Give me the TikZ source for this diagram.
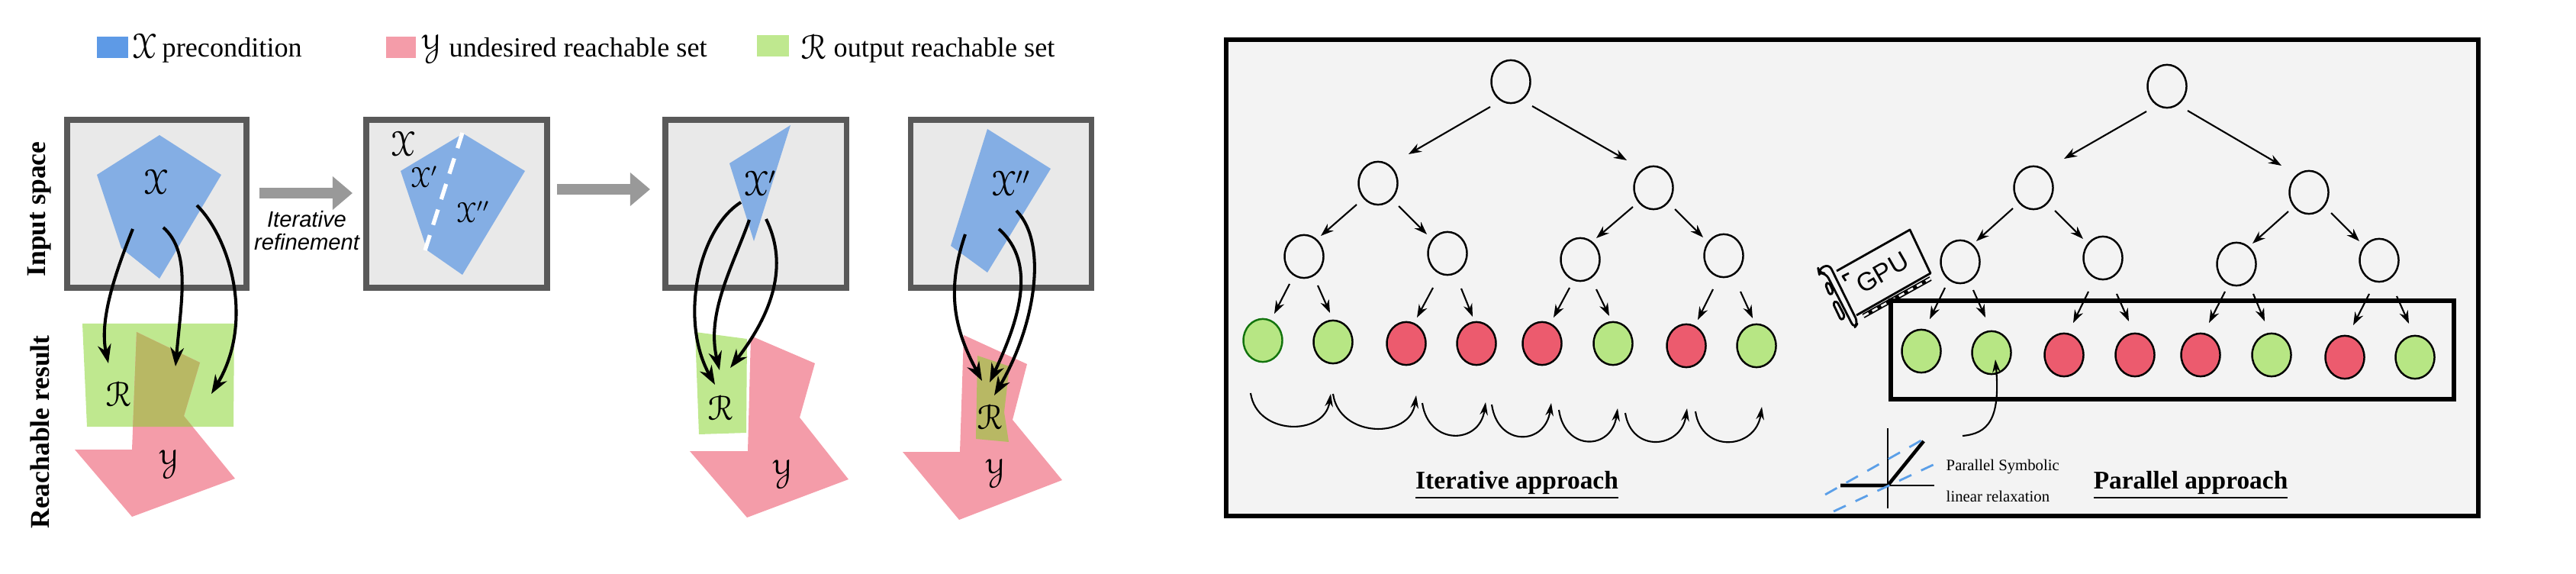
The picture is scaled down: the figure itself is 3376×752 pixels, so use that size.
\documentclass[tikz,border=0pt]{standalone}
\usepackage{fontspec}
\usepackage{eucal}
\setmainfont{Liberation Serif}
\setsansfont{Liberation Sans}
\usetikzlibrary{arrows.meta,shapes.geometric,calc}
\definecolor{cblue}{HTML}{84AEE4}
\definecolor{cblueL}{HTML}{5E9AE6}
\definecolor{cpink}{HTML}{F49CA9}
\definecolor{cgreen}{HTML}{BFE88F}
\definecolor{colive}{HTML}{B8B864}
\definecolor{cbox}{HTML}{595959}
\definecolor{cfill}{HTML}{E9E9E9}
\definecolor{cgray}{HTML}{999999}
\definecolor{lred}{HTML}{EC5B6E}
\definecolor{lgreen}{HTML}{B7E684}
\definecolor{ldash}{HTML}{5B9FE8}
\definecolor{frameback}{HTML}{F3F3F3}
\newcommand{\calX}{$\mathcal{X}$}
\newcommand{\calY}{$\mathcal{Y}$}
\newcommand{\calR}{$\mathcal{R}$}
\tikzset{
  spacebox/.style={draw=cbox,fill=cfill,line width=2pt},
  bigarrow/.style={line width=4.2pt,draw=cgray,-{Triangle[length=7.4pt,width=12pt]}},
  mapcurve/.style={line width=1.15pt,black,-{Stealth[length=7pt,width=5pt]}},
  tnode/.style={ellipse,draw=black,line width=0.7pt,minimum width=14.5pt,minimum height=16pt,inner sep=0pt},
  gleaf/.style={tnode,fill=lgreen},
  rleaf/.style={tnode,fill=lred},
  tarrow/.style={line width=0.6pt,black,-{Stealth[length=4.8pt,width=3.4pt]}},
  swoop/.style={line width=0.6pt,black,-{Stealth[length=4.8pt,width=3pt]}},
  lab/.style={inner sep=0pt,font=\fontsize{13pt}{13pt}\selectfont},
  labsmall/.style={inner sep=0pt,font=\fontsize{10.5pt}{11pt}\selectfont},
  legend/.style={inner sep=0pt,anchor=base west,font=\fontsize{10.3pt}{12pt}\selectfont},
  rowlabel/.style={inner sep=0pt,rotate=90,font=\fontsize{10.1pt}{12pt}\selectfont\bfseries},
  title/.style={inner sep=0pt,anchor=base,font=\fontsize{9.5pt}{12pt}\selectfont\bfseries},
  small/.style={inner sep=0pt,anchor=west,font=\fontsize{5.9pt}{7pt}\selectfont},
  gpuline/.style={black,line width=0.8pt,line join=round},
}
% \conn{a}{dx,dy}{b}{dx,dy}: tree arrow between two named nodes
\newcommand{\conn}[4]{\draw[tarrow] ([shift={(#2)}]#1.center) -- ([shift={(#4)}]#3.center);}
% \swp{a}{dx,dy}{b}{dx,dy}{bottom}: swoop under leaves, from below leaf a to below leaf b
\newcommand{\swp}[5]{\draw[swoop] ([shift={(#2)}]#1.center) .. controls ($([shift={(#2)}]#1.center)+(8,#5)$) and ($([shift={(#4)}]#3.center)+(-8,#5)$) .. ([shift={(#4)}]#3.center);}
\begin{document}
\begin{tikzpicture}[x=0.01cm,y=-0.01cm]
\useasboundingbox (0,0) rectangle (3376,752);
%% legend
\fill[cblueL] (127,48) rectangle (168,76);
\node[lab] (lx) at (189,60) {\calX};
\node[legend] (lt1) at (212,75) {precondition};
\fill[cpink] (506,48) rectangle (545,76);
\node[lab] (ly) at (565,61) {\calY};
\node[legend] (lt2) at (588,75) {undesired reachable set};
\fill[cgreen] (992,46) rectangle (1034,74);
\node[lab] (lr) at (1066,61) {\calR};
\node[legend] (lt3) at (1092,75) {output reachable set};
%% row labels
\node[rowlabel] (inp) at (52,274) {Input space};
\node[rowlabel] (rea) at (52,566) {Reachable result};
%% boxes
\draw[spacebox] (88,157) rectangle (323,377);
\draw[spacebox] (480,157) rectangle (717,377);
\draw[spacebox] (872,157) rectangle (1109,377);
\draw[spacebox] (1193,157) rectangle (1430,377);
\coordinate (b1r) at (340,253); \coordinate (b2l) at (462,253);
\coordinate (b2r) at (730,248); \coordinate (b3l) at (852,248);
\draw[bigarrow] (b1r) -- (b2l);
\draw[bigarrow] (b2r) -- (b3l);
\node[inner sep=0pt,align=center,font=\fontsize{8.3pt}{8.6pt}\selectfont\sffamily\itshape] (iter) at (402,302) {Iterative\\refinement};
%% panel 1
\fill[cblue] (209,177) -- (290,229) -- (209,365) -- (159,325) -- (127,229) -- cycle;
\node[lab] (x1) at (204,238) {\calX};
\fill[cgreen] (108,424) -- (307,424) -- (306,559) -- (114,559) -- cycle;
\fill[cpink] (179,435) -- (262,475) -- (241,545) -- (308,627) -- (173,677) -- (98,589) -- (173,589) -- cycle;
\begin{scope}
\clip (108,424) -- (307,424) -- (306,559) -- (114,559) -- cycle;
\fill[colive] (179,435) -- (262,475) -- (241,545) -- (308,627) -- (173,677) -- (98,589) -- (173,589) -- cycle;
\end{scope}
\node[lab] (r1) at (155,516) {\calR};
\node[lab] (y1) at (221,605) {\calY};
\coordinate (a1s) at (174,300); \coordinate (a1e) at (142,476);
\coordinate (a2s) at (214,298); \coordinate (a2e) at (230,480);
\coordinate (a3s) at (258,269); \coordinate (a3e) at (277,516);
\draw[mapcurve] (a1s) .. controls (150,360) and (130,420) .. (a1e);
\draw[mapcurve] (a2s) .. controls (250,330) and (238,390) .. (a2e);
\draw[mapcurve] (a3s) .. controls (300,310) and (335,420) .. (a3e);
%% panel 2
\fill[cblue] (607,175) -- (688,224) -- (606,360) -- (560,328) -- (525,224) -- cycle;
\draw[white,line width=1.5pt,dash pattern=on 6pt off 4pt] (606,174) -- (557,328);
\node[lab] (x2) at (528,188) {\calX};
\node[labsmall] (x2a) at (556,232) {\calX$'$};
\node[labsmall] (x2b) at (620,278) {\calX$''$};
%% panel 3
\fill[cblue] (1036,164) -- (956,214) -- (988,316) -- cycle;
\node[lab] (x3) at (996,240) {\calX$'$};
\fill[cgreen] (911,435) -- (979,444) -- (978,567) -- (916,569) -- cycle;
\fill[cpink] (984,440) -- (1068,476) -- (1048,547) -- (1112,628) -- (979,678) -- (904,591) -- (980,591) -- cycle;
\node[lab] (r3) at (944,534) {\calR};
\node[lab] (y3) at (1025,618) {\calY};
\coordinate (b1s) at (971,265); \coordinate (b1e) at (937,504);
\coordinate (b2s) at (982,288); \coordinate (b2e) at (943,485);
\coordinate (b3s) at (1004,287); \coordinate (b3e) at (957,482);
\draw[mapcurve] (b1s) .. controls (915,300) and (890,420) .. (b1e);
\draw[mapcurve] (b2s) .. controls (960,350) and (925,410) .. (b2e);
\draw[mapcurve] (b3s) .. controls (1030,340) and (1020,400) .. (b3e);
%% panel 4
\fill[cblue] (1294,169) -- (1377,221) -- (1294,357) -- (1246,322) -- cycle;
\node[lab] (x4) at (1325,240) {\calX$''$};
\fill[cpink] (1263,439) -- (1346,477) -- (1327,550) -- (1392,629) -- (1257,681) -- (1183,592) -- (1258,592) -- cycle;
\fill[colive] (1281,466) -- (1323,480) -- (1316,540) -- (1322,579) -- (1279,575) -- cycle;
\node[lab] (r4) at (1297,546) {\calR};
\node[lab] (y4) at (1304,617) {\calY};
\coordinate (c1s) at (1265,307); \coordinate (c1e) at (1287,499);
\coordinate (c2s) at (1309,300); \coordinate (c2e) at (1297,501);
\coordinate (c3s) at (1332,276); \coordinate (c3e) at (1303,518);
\draw[mapcurve] (c1s) .. controls (1240,380) and (1250,430) .. (c1e);
\draw[mapcurve] (c2s) .. controls (1360,345) and (1335,420) .. (c2e);
\draw[mapcurve] (c3s) .. controls (1375,320) and (1355,430) .. (c3e);
%% right frame
\draw[black,fill=frameback,line width=1.9pt] (1607,52) rectangle (3248,676);
%% iterative tree
\node[tnode] (r) at (1980,107) {};
\node[tnode] (n1) at (1806,240) {};
\node[tnode] (n2) at (2167,246) {};
\node[tnode] (n11) at (1709,336) {};
\node[tnode] (n12) at (1897,332) {};
\node[tnode] (n21) at (2071,340) {};
\node[tnode] (n22) at (2259,335) {};
\node[gleaf,draw=green!40!black!90!lgreen] (l1) at (1655,446) {};
\node[gleaf] (l2) at (1747,448) {};
\node[rleaf] (l3) at (1843,450) {};
\node[rleaf] (l4) at (1935,450) {};
\node[rleaf] (l5) at (2021,450) {};
\node[gleaf] (l6) at (2114,450) {};
\node[rleaf] (l7) at (2210,453) {};
\node[gleaf] (l8) at (2302,453) {};
\conn{r}{-27,33}{n1}{40,-38}
\conn{r}{28,32}{n2}{-35,-36}
\conn{n1}{-28,28}{n11}{22,-27}
\conn{n1}{27,30}{n12}{-27,-25}
\conn{n2}{-27,25}{n21}{21,-28}
\conn{n2}{28,28}{n22}{-27,-24}
\conn{n11}{-19,36}{l1}{15,-35}
\conn{n11}{18,38}{l2}{-4,-38}
\conn{n12}{-19,45}{l3}{14,-34}
\conn{n12}{18,46}{l4}{-5,-35}
\conn{n21}{-14,37}{l5}{15,-34}
\conn{n21}{21,39}{l6}{-5,-36}
\conn{n22}{-14,44}{l7}{15,-34}
\conn{n22}{22,47}{l8}{-5,-36}
\swp{l1}{-16,69}{l2}{-3,68}{56}
\swp{l2}{0,68}{l3}{13,68}{58}
\swp{l3}{21,78}{l4}{12,77}{56}
\swp{l4}{20,80}{l5}{12,78}{56}
\swp{l5}{22,87}{l6}{6,85}{55}
\swp{l6}{16,91}{l7}{1,82}{53}
\swp{l7}{12,86}{l8}{7,80}{56}
\node[title] (t1) at (1988,640) {\underline{Iterative approach}};
%% GPU icon
\draw[gpuline] (2407,355) -- (2503,301) -- (2530,358) -- (2433,413);
\draw[black,line width=1.8pt] (2442,414) -- (2530,365);
\draw[frameback,line width=0.8pt,dash pattern=on 2.2pt off 1.6pt] (2442,414) -- (2530,365);
\draw[gpuline,rounded corners=2pt,fill=frameback] (2384,358) -- (2383,353) -- (2397,346) -- (2435,423) -- (2430,430) -- (2393,358) -- cycle;
\draw[gpuline,rounded corners=1pt] (2392,372) -- (2397,370) -- (2403,383) -- (2398,387) -- cycle;
\draw[gpuline,rounded corners=1pt] (2402,397) -- (2407,394) -- (2418,415) -- (2413,420) -- cycle;
\draw[gpuline] (2423,358) -- (2415,362) -- (2419,368);
\node[inner sep=0pt,rotate=30,font=\fontsize{9.6pt}{10pt}\selectfont\sffamily] (gpu) at (2467,357) {GPU};
%% parallel tree
\draw[black,line width=1.7pt] (2478,394) rectangle (3216,523);
\node[tnode] (p) at (2840,113) {};
\node[tnode] (m1) at (2665,246) {};
\node[tnode] (m2) at (3026,252) {};
\node[tnode] (m11) at (2569,343) {};
\node[tnode] (m12) at (2756,338) {};
\node[tnode] (m21) at (2931,346) {};
\node[tnode] (m22) at (3118,341) {};
\node[gleaf] (k1) at (2518,460) {};
\node[gleaf] (k2) at (2610,462) {};
\node[rleaf] (k3) at (2705,465) {};
\node[rleaf] (k4) at (2798,465) {};
\node[rleaf] (k5) at (2884,465) {};
\node[gleaf] (k6) at (2977,465) {};
\node[rleaf] (k7) at (3073,468) {};
\node[gleaf] (k8) at (3165,468) {};
\conn{p}{-27,33}{m1}{40,-38}
\conn{p}{27,32}{m2}{-36,-35}
\conn{m1}{-27,27}{m11}{21,-27}
\conn{m1}{28,30}{m12}{-26,-25}
\conn{m2}{-27,25}{m21}{21,-27}
\conn{m2}{29,27}{m22}{-26,-25}
\conn{m11}{-20,34}{k1}{11,-42}
\conn{m11}{17,37}{k2}{-8,-46}
\conn{m12}{-19,44}{k3}{12,-42}
\conn{m12}{18,47}{k4}{-8,-44}
\conn{m21}{-15,36}{k5}{11,-42}
\conn{m21}{22,39}{k6}{-9,-44}
\conn{m22}{-13,44}{k7}{11,-42}
\conn{m22}{23,47}{k8}{-8,-44}
\coordinate (rel) at (2572,571);
\draw[swoop] (rel) .. controls (2605,568) and (2622,550) .. ([shift={(5,9)}]k2.center);
\node[title] (t2) at (2871,640) {\underline{Parallel approach}};
%% relaxation plot
\draw[black,line width=0.5pt] (2474,561) -- (2474,666);
\draw[black,line width=0.5pt] (2474,636) -- (2535,636);
\draw[black,line width=1.3pt] (2412,636) -- (2474,636) -- (2521,578);
\draw[ldash,line width=0.8pt,dash pattern=on 5pt off 4pt] (2392,648) -- (2525,573);
\draw[ldash,line width=0.8pt,dash pattern=on 5pt off 4pt] (2403,670) -- (2542,605);
\node[small] (s1) at (2550,612) {Parallel Symbolic};
\node[small] (s2) at (2550,650) {linear relaxation};
\end{tikzpicture}
\end{document}
